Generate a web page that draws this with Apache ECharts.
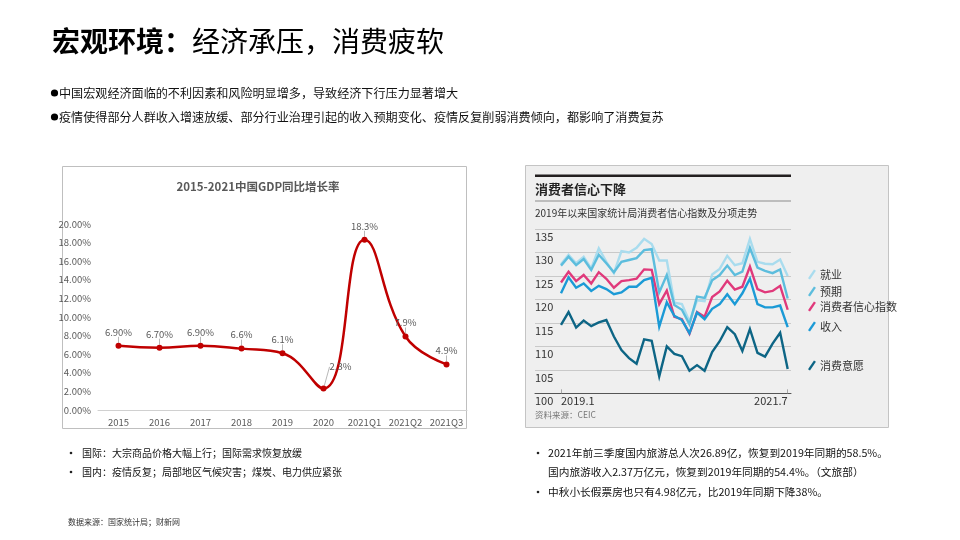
<!DOCTYPE html>
<html><head><meta charset="utf-8">
<script src="https://cdn.jsdelivr.net/npm/echarts@6/dist/echarts.min.js"></script>
<style>html,body{margin:0;padding:0;background:#fff}#c{width:960px;height:540px}</style>
</head><body><div id="c"></div>
<script>
// ---- Left chart data: GDP YoY growth ----
const gdpCategories = ['2015','2016','2017','2018','2019','2020','2021Q1','2021Q2','2021Q3'];
const gdpValues = [6.9, 6.7, 6.9, 6.6, 6.1, 2.3, 18.3, 7.9, 4.9];
const gdpLabels = ['6.90%','6.70%','6.90%','6.6%','6.1%','2.3%','18.3%','7.9%','4.9%'];

// ---- Right chart data: consumer confidence index & components ----
const months = ['2019.1','2019.2','2019.3','2019.4','2019.5','2019.6','2019.7','2019.8','2019.9','2019.10','2019.11','2019.12',
  '2020.1','2020.2','2020.3','2020.4','2020.5','2020.6','2020.7','2020.8','2020.9','2020.10','2020.11','2020.12',
  '2021.1','2021.2','2021.3','2021.4','2021.5','2021.6','2021.7'];
const employment  = [127.5,129.5,127.7,129.1,126.6,130.9,128.0,125.6,130.3,130.0,131.0,132.9,131.8,128.3,128.3,119.3,119.0,115.3,119.8,119.6,125.3,126.5,129.3,127.3,127.7,132.9,128.0,127.6,127.5,128.5,125.0];
const expectation = [127.2,129.1,127.3,128.6,126.3,129.5,127.7,125.8,128.0,128.4,128.8,130.5,130.7,121.5,125.2,118.8,117.8,114.7,120.6,120.3,124.1,125.2,127.2,125.2,125.9,131.0,126.8,126.1,125.6,126.4,120.2];
const confidence  = [123.6,125.9,123.9,125.2,123.4,125.8,124.4,122.5,123.9,124.1,124.4,126.4,126.3,119.0,121.9,116.3,115.8,112.7,117.3,116.3,120.5,121.7,124.0,122.1,122.7,127.0,122.2,121.5,121.8,122.9,117.8];
const income      = [121.3,124.7,122.5,123.4,121.8,122.9,122.2,121.1,121.5,122.7,122.7,124.1,124.6,114.2,119.4,116.5,115.6,112.8,117.2,115.8,118.0,119.0,121.1,119.0,121.3,124.4,119.0,118.3,118.3,118.7,114.1];
const willingness = [114.6,117.3,114.0,115.5,114.3,115.1,115.6,112.1,109.2,107.5,106.3,111.5,111.2,103.6,110.0,108.4,107.9,104.8,106.0,104.8,108.8,111.1,114.1,112.6,109.0,113.7,108.6,107.8,110.6,112.9,105.2];
const ccSeriesNames = ['就业','预期','消费者信心指数','收入','消费意愿'];
const ccColors = ['#a9dcee','#5cbddd','#e0397b','#1b9ad6','#0d6585'];

const FONT = '"Noto Sans CJK SC", "Noto Sans", sans-serif';
const chart = echarts.init(document.getElementById('c'), null, {renderer: 'canvas'});

const slashIcon = 'path://M0,11 L7.5,0 L10,1.6 L2.5,12.6 Z';
const legendTops = [269, 286, 301, 321, 360];

const option = {
  animation: false,
  textStyle: {fontFamily: FONT},
  title: [{
    text: '2015-2021中国GDP同比增长率',
    left: 253, top: 176, textAlign: 'center',
    textStyle: {fontSize: 11.5, fontWeight: 'bold', color: '#595959', fontFamily: FONT}
  }],
  legend: ccSeriesNames.map((n, i) => ({
    data: [n], left: 808, top: legendTops[i], orient: 'vertical',
    icon: slashIcon, itemWidth: 8, itemHeight: 10, itemGap: 4,
    selectedMode: false, padding: 0,
    textStyle: {fontSize: 11, color: '#333', fontFamily: FONT, padding: [0,0,0,-1]}
  })),
  grid: [
    {left: 98, right: 493, top: 224, bottom: 130},           // GDP
    {left: 535, right: 169, top: 229, bottom: 146.7},        // CC background grid
    {left: 561, right: 172.3, top: 229, bottom: 146.7}       // CC lines
  ],
  xAxis: [
    {gridIndex: 0, type: 'category', data: gdpCategories, boundaryGap: true,
     axisLine: {lineStyle: {color: '#d0d0d0'}}, axisTick: {show: false},
     axisLabel: {color: '#595959', fontSize: 9.5, margin: 8, interval: 0}},
    {gridIndex: 1, type: 'value', min: 0, max: 1, axisLine: {show: true, onZero: false, lineStyle: {color: '#555', width: 1}},
     axisTick: {show: false}, axisLabel: {show: false}, splitLine: {show: false}},
    {gridIndex: 2, type: 'category', data: months, boundaryGap: false,
     axisLine: {show: false},
     axisTick: {show: true, inside: true, length: 4, lineStyle: {color: '#aaa'}, interval: (i) => i === 0 || i === months.length - 1},
     axisLabel: {color: '#333', fontSize: 11, margin: 2, interval: (i) => i === 0 || i === months.length - 1,
                 alignMinLabel: 'left', alignMaxLabel: 'right'}}
  ],
  yAxis: [
    {gridIndex: 0, type: 'value', min: 0, max: 20, interval: 2,
     axisLine: {show: false}, axisTick: {show: false}, splitLine: {show: false},
     axisLabel: {color: '#595959', fontSize: 9.5, margin: 7, formatter: v => v.toFixed(2) + '%'}},
    {gridIndex: 1, type: 'value', min: 100, max: 135, interval: 5,
     axisLine: {show: false}, axisTick: {show: false},
     splitLine: {show: true, lineStyle: {color: '#c9c9c9', width: 1}},
     axisLabel: {inside: true, margin: 0, color: '#333', fontSize: 11, verticalAlign: 'top', padding: [2,0,0,0],
                 formatter: v => String(v)}},
    {gridIndex: 2, type: 'value', min: 100, max: 135, interval: 5, show: false}
  ],
  series: [
    {
      type: 'line', xAxisIndex: 0, yAxisIndex: 0, data: gdpValues, smooth: 0.45,
      symbol: 'circle', symbolSize: 6,
      lineStyle: {color: '#c00000', width: 2.5}, itemStyle: {color: '#c00000'},
      label: {show: true, position: 'top', distance: 6, color: '#595959', fontSize: 9.5,
              formatter: p => gdpLabels[p.dataIndex]},
      labelLine: {show: true, lineStyle: {color: '#a6a6a6', width: 0.8}},
      labelLayout: p => p.dataIndex === 5 ? {dx: 17, dy: -8} : {},
      z: 3
    },
    ...[employment, expectation, confidence, income, willingness].map((d, i) => ({
      name: ccSeriesNames[i], type: 'line', xAxisIndex: 2, yAxisIndex: 2, data: d,
      symbol: 'none', color: ccColors[i],
      lineStyle: {color: ccColors[i], width: 2.4, join: 'miter'},
      z: 3 + i
    }))
  ],
  graphic: [
    // main title
    {type: 'text', left: 52, top: 27, z: 10,
     style: {text: '{b|宏观环境：}{n|经济承压，消费疲软}', fill: '#000',
       rich: {b: {fontSize: 28, fontWeight: 'bold', fontFamily: FONT, fill: '#000'},
              n: {fontSize: 28, fontFamily: FONT, fill: '#000'}}}},
    // top bullets
    {type: 'circle', shape: {cx: 54.5, cy: 93, r: 3.6}, style: {fill: '#000'}},
    {type: 'text', x: 59, y: 93, style: {text: '中国宏观经济面临的不利因素和风险明显增多，导致经济下行压力显著增大',
      fontSize: 12.1, fontFamily: FONT, fill: '#111', verticalAlign: 'middle'}},
    {type: 'circle', shape: {cx: 54.5, cy: 117, r: 3.6}, style: {fill: '#000'}},
    {type: 'text', x: 59, y: 117, style: {text: '疫情使得部分人群收入增速放缓、部分行业治理引起的收入预期变化、疫情反复削弱消费倾向，都影响了消费复苏',
      fontSize: 12.1, fontFamily: FONT, fill: '#111', verticalAlign: 'middle'}},
    // left chart frame
    {type: 'rect', shape: {x: 62.5, y: 166.5, width: 404, height: 262}, style: {fill: 'none', stroke: '#bfbfbf', lineWidth: 1}, z: -10},
    // right chart frame
    {type: 'rect', shape: {x: 525.5, y: 165.5, width: 363, height: 262}, style: {fill: '#efefef', stroke: '#c4c4c4', lineWidth: 1}, z: -10},
    {type: 'rect', shape: {x: 535, y: 174.5, width: 256, height: 2.5}, style: {fill: '#231f20'}},
    {type: 'text', x: 535, y: 189, style: {text: '消费者信心下降', fontSize: 13, fontWeight: 'bold', fontFamily: FONT, fill: '#222', verticalAlign: 'middle'}},
    {type: 'rect', shape: {x: 535, y: 200.5, width: 256, height: 1}, style: {fill: '#8c8c8c'}},
    {type: 'text', x: 535, y: 213.5, style: {text: '2019年以来国家统计局消费者信心指数及分项走势', fontSize: 10, fontFamily: FONT, fill: '#333', verticalAlign: 'middle'}},
    {type: 'text', x: 535, y: 415, style: {text: '资料来源：CEIC', fontSize: 8.5, fontFamily: FONT, fill: '#777', verticalAlign: 'middle'}},
    // bottom-left bullets
    {type: 'circle', shape: {cx: 71, cy: 453, r: 1.3}, style: {fill: '#222'}},
    {type: 'text', x: 82, y: 453, style: {text: '国际：大宗商品价格大幅上行；国际需求恢复放缓', fontSize: 10, fontFamily: FONT, fill: '#111', verticalAlign: 'middle'}},
    {type: 'circle', shape: {cx: 71, cy: 472, r: 1.3}, style: {fill: '#222'}},
    {type: 'text', x: 82, y: 472, style: {text: '国内：疫情反复；局部地区气候灾害；煤炭、电力供应紧张', fontSize: 10, fontFamily: FONT, fill: '#111', verticalAlign: 'middle'}},
    // bottom-right bullets
    {type: 'circle', shape: {cx: 538, cy: 453, r: 1.3}, style: {fill: '#222'}},
    {type: 'text', x: 548, y: 453, style: {text: '2021年前三季度国内旅游总人次26.89亿，恢复到2019年同期的58.5%。', fontSize: 10.7, fontFamily: FONT, fill: '#111', verticalAlign: 'middle'}},
    {type: 'text', x: 548, y: 472, style: {text: '国内旅游收入2.37万亿元，恢复到2019年同期的54.4%。（文旅部）', fontSize: 10.7, fontFamily: FONT, fill: '#111', verticalAlign: 'middle'}},
    {type: 'circle', shape: {cx: 538, cy: 492, r: 1.3}, style: {fill: '#222'}},
    {type: 'text', x: 548, y: 492, style: {text: '中秋小长假票房也只有4.98亿元，比2019年同期下降38%。', fontSize: 10.7, fontFamily: FONT, fill: '#111', verticalAlign: 'middle'}},
    // source
    {type: 'text', x: 68, y: 522, style: {text: '数据来源：国家统计局；财新网', fontSize: 8, fontFamily: FONT, fill: '#333', verticalAlign: 'middle'}}
  ]
};
chart.setOption(option);
</script>
</body></html>
